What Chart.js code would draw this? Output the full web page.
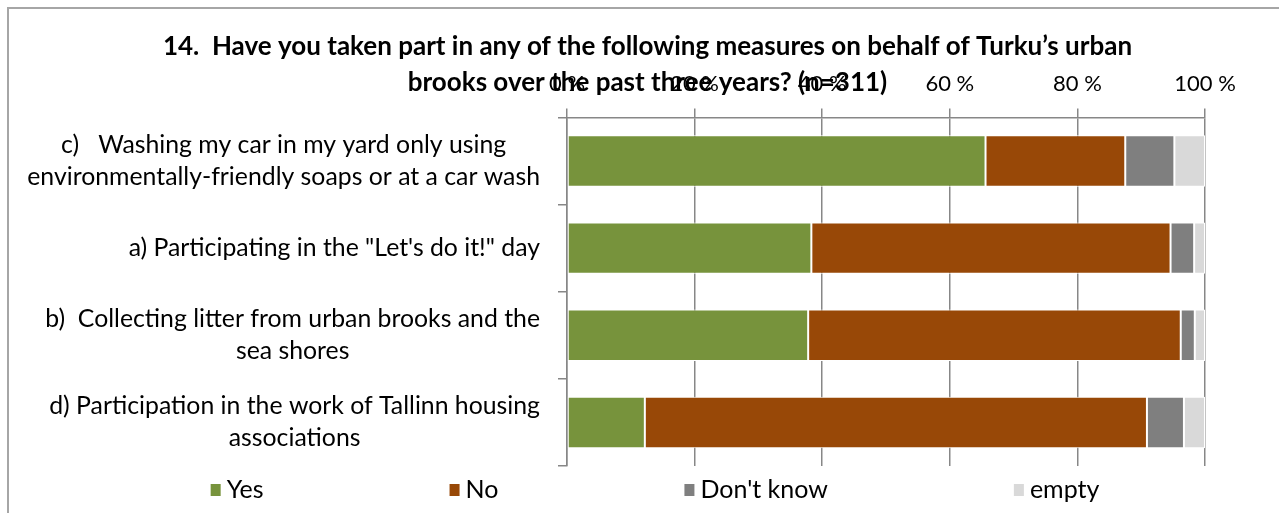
<!DOCTYPE html>
<html>
<head>
<meta charset="utf-8">
<script src="https://cdn.jsdelivr.net/npm/chart.js@4.4.1/dist/chart.umd.min.js"></script>
<style>
  html, body { margin: 0; padding: 0; background: #fff; }
  #wrap { position: absolute; left: 0; top: 0; width: 1279px; height: 513px; }
  #frame { position: absolute; left: 7px; top: 7px; width: 1400px; height: 700px;
           border-left: 2px solid #a6a6a6; border-top: 2px solid #a6a6a6; pointer-events: none; }
</style>
</head>
<body>
<div id="wrap">
  <canvas id="chart" width="1279" height="513"></canvas>
  <div id="frame"></div>
</div>
<script>
// Survey measures (top to bottom), each label split into its display lines
const categories = [
  ['c)   Washing my car in my yard only using', 'environmentally-friendly soaps or at a car wash'],
  ['a) Participating in the "Let\'s do it!" day'],
  ['b)  Collecting litter from urban brooks and the', 'sea shores'],
  ['d) Participation in the work of Tallinn housing', 'associations']
];

// Share of respondents (%) per answer
const yes       = [65.6, 38.3, 37.8, 12.2];
const no        = [21.9, 56.3, 58.4, 78.7];
const dontKnow  = [7.7, 3.7, 2.2, 5.8];
const empty     = [4.8, 1.7, 1.6, 3.3];

const seriesNames = ['Yes', 'No', "Don't know", 'empty'];
const xTicks = [0, 20, 40, 60, 80, 100];

const FONT = 'Lato';
const AXIS_GREY = '#878787';
const colours = ['#77933c', '#984807', '#7f7f7f', '#d9d9d9'];
const values = [yes, no, dontKnow, empty];

// Category labels: block right-aligned against the axis, lines centred within the block
const centredCategoryLabels = {
  id: 'centredCategoryLabels',
  afterDraw(chart) {
    const ctx = chart.ctx;
    const y = chart.scales.y;
    const right = chart.chartArea.left - 27;
    const lh = 32;
    ctx.save();
    ctx.font = `24.8px ${FONT}`;
    ctx.fillStyle = '#000';
    ctx.textAlign = 'center';
    ctx.textBaseline = 'middle';
    chart.data.labels.forEach((_, i) => {
      const lines = categories[i];
      const cy = y.getPixelForValue(i);
      const w = Math.max(...lines.map(l => ctx.measureText(l).width));
      const cx = right - w / 2;
      const y0 = cy - (lines.length - 1) * lh / 2;
      lines.forEach((l, k) => ctx.fillText(l, cx, y0 + k * lh));
    });
    ctx.restore();
  }
};

// Legend row under the plot: square swatch + name, equal gaps between entries
const legendRow = {
  id: 'legendRow',
  afterDraw(chart) {
    const ctx = chart.ctx;
    const gap = 186, box = 10, boxH = 12, textGap = 6;
    const cy = chart.chartArea.bottom + 24;
    const centre = 655;
    ctx.save();
    ctx.font = `25px ${FONT}`;
    ctx.textBaseline = 'middle';
    ctx.textAlign = 'left';
    const items = chart.data.datasets.map(ds => ({
      text: ds.label, colour: ds.backgroundColor,
      w: box + textGap + ctx.measureText(ds.label).width
    }));
    const total = items.reduce((s, it) => s + it.w, 0) + gap * (items.length - 1);
    let x = centre - total / 2;
    items.forEach(it => {
      ctx.fillStyle = it.colour;
      ctx.fillRect(x, cy - boxH / 2, box, boxH);
      ctx.fillStyle = '#000';
      ctx.fillText(it.text, x + box + textGap, cy);
      x += it.w + gap;
    });
    ctx.restore();
  }
};

new Chart(document.getElementById('chart'), {
  type: 'bar',
  data: {
    labels: categories.map(l => l.join(' ')),
    datasets: values.map((v, i) => ({
      label: seriesNames[i],
      data: v,
      backgroundColor: colours[i],
      borderColor: '#ffffff',
      borderWidth: 1,
      borderSkipped: false,
      barPercentage: 0.59,
      categoryPercentage: 1.0
    }))
  },
  options: {
    indexAxis: 'y',
    responsive: false,
    animation: false,
    layout: { padding: { left: 16, right: 0, top: 0, bottom: 47 } },
    plugins: {
      title: {
        display: true,
        text: ['14.  Have you taken part in any of the following measures on behalf of Turku\u2019s urban',
               'brooks over the past three years? (n=311)'],
        color: '#000',
        font: { family: FONT, size: 26, weight: 'bold', lineHeight: 1.385 },
        padding: { top: 29, bottom: -41 }
      },
      legend: { display: false },
      tooltip: { enabled: false }
    },
    scales: {
      x: {
        type: 'linear',
        position: 'top',
        stacked: true,
        min: 0,
        max: 100,
        afterBuildTicks: s => { s.ticks = xTicks.map(v => ({ value: v })); },
        ticks: {
          color: '#000',
          font: { family: FONT, size: 22 },
          padding: 11,
          maxRotation: 0,
          callback: v => v + ' %'
        },
        grid: { color: AXIS_GREY, lineWidth: 1.5, tickLength: 9, drawTicks: true },
        border: { display: true, color: AXIS_GREY, width: 1.5 }
      },
      y: {
        type: 'category',
        stacked: true,
        offset: true,
        z: 1,
        afterFit: s => { s.width = 567 - 16; },
        ticks: { display: false },
        grid: { offset: true, drawOnChartArea: false, drawTicks: true, tickLength: 9, color: AXIS_GREY, lineWidth: 1.5 },
        border: { display: true, color: AXIS_GREY, width: 1.5 }
      },
      spacer: {
        type: 'linear',
        axis: 'y',
        position: 'right',
        display: true,
        afterFit: s => { s.width = 1279 - 1205; },
        ticks: { display: false },
        grid: { display: false, drawTicks: false },
        border: { display: false }
      }
    }
  },
  plugins: [centredCategoryLabels, legendRow]
});
</script>
</body>
</html>
